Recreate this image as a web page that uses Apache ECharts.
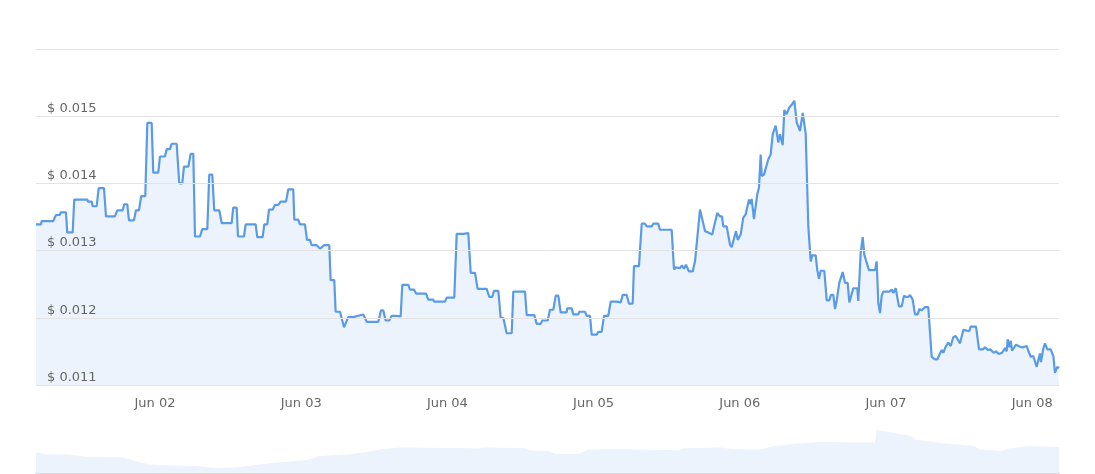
<!DOCTYPE html>
<html>
<head>
<meta charset="utf-8">
<script src="https://cdn.jsdelivr.net/npm/echarts@6/dist/echarts.min.js"></script>
<style>
html,body{margin:0;padding:0;background:#fff;}
#chart{width:1095px;height:474px;}
</style>
</head>
<body>
<div id="chart"></div>
<script>
// Hours since 2024-06-01 00:00 UTC
const hours = [4.47,5.29,5.40,7.31,7.75,8.40,8.52,9.39,9.60,10.49,10.75,12.89,13.00,13.61,13.77,14.43,14.76,15.63,15.96,17.43,
17.81,18.70,18.96,19.45,19.73,20.55,20.88,21.37,21.75,22.41,22.74,23.46,23.72,24.54,24.82,25.64,25.92,26.46,26.74,27.56,
27.99,28.48,28.76,29.47,29.86,30.29,30.57,31.39,31.76,32.59,32.91,33.41,33.73,34.56,34.95,36.59,36.85,37.41,37.63,38.61,
38.89,40.53,40.79,41.68,41.94,42.44,42.71,43.32,43.70,44.24,44.64,45.51,45.88,46.70,46.87,47.52,47.80,48.62,48.95,49.44,
49.72,50.54,51.09,51.37,51.79,52.61,52.84,53.43,53.66,54.37,55.03,55.73,56.55,56.72,57.37,57.54,58.19,58.75,60.66,61.10,
61.48,61.87,62.46,62.86,63.56,63.68,64.33,64.60,65.58,65.86,66.52,66.85,68.49,68.87,69.69,69.85,71.61,71.89,73.13,73.53,
74.61,74.89,75.43,75.83,76.53,76.97,78.45,78.88,79.37,79.65,80.36,80.75,81.18,81.73,82.56,82.82,84.74,85.02,86.27,86.66,
87.32,87.58,88.47,88.84,89.39,89.78,90.21,90.60,91.58,91.68,92.41,92.67,93.49,93.65,94.59,94.87,95.41,95.69,96.51,96.77,
97.33,97.71,98.41,98.81,99.79,100.05,100.45,100.78,101.43,101.81,102.42,102.63,103.45,103.90,104.44,104.72,105.54,105.80,106.62,106.90,
108.82,109.20,109.53,110.18,110.51,110.84,111.17,111.66,112.27,112.65,113.47,114.29,114.83,115.49,115.77,116.09,116.31,116.75,117.08,117.29,
117.85,118.39,118.67,119.38,119.66,120.15,120.57,120.97,121.51,121.79,121.95,122.33,122.61,122.87,123.15,123.43,123.60,123.97,124.19,124.68,
125.07,125.40,125.61,125.89,126.32,126.60,126.88,127.04,127.31,127.70,128.13,128.52,128.95,129.34,129.88,130.33,130.82,131.25,131.64,131.90,
132.46,132.72,133.00,133.28,133.87,134.27,134.69,134.97,135.35,135.63,135.91,136.33,136.89,137.27,137.71,137.98,138.63,139.29,139.45,139.85,
140.18,140.44,140.83,141.21,142.20,142.47,142.74,143.02,143.29,143.56,144.54,144.94,145.20,145.59,146.13,146.58,146.95,147.28,147.66,147.94,
148.38,148.76,149.20,149.47,149.86,150.40,150.94,151.50,152.04,152.42,152.87,153.14,153.41,153.80,154.23,154.62,155.05,155.44,156.15,156.69,
157.67,157.90,158.78,159.27,159.88,160.25,160.75,161.12,161.68,162.06,162.50,163.04,163.32,163.54,163.81,163.98,164.24,164.47,164.69,165.34,
166.00,166.44,167.10,167.36,167.76,168.18,168.74,169.00,169.28,169.44,169.82,170.10,170.48,171.04,171.47,171.74,172.12,172.40];

// Price in USD
const prices = [0.01339,0.01339,0.01344,0.01344,0.01353,0.01353,0.01357,0.01357,0.01327,0.01327,0.01376,0.01376,0.01373,0.01373,0.01366,0.01366,0.01393,0.01393,0.01351,0.01351,
0.01360,0.01360,0.01369,0.01369,0.01345,0.01345,0.01360,0.01360,0.01381,0.01381,0.01490,0.01490,0.01416,0.01416,0.01440,0.01440,0.01451,0.01451,0.01459,0.01459,
0.01400,0.01400,0.01425,0.01425,0.01444,0.01444,0.01321,0.01321,0.01332,0.01332,0.01413,0.01413,0.01360,0.01360,0.01341,0.01341,0.01364,0.01364,0.01321,0.01321,
0.01339,0.01339,0.01320,0.01320,0.01339,0.01339,0.01361,0.01361,0.01368,0.01368,0.01373,0.01373,0.01391,0.01391,0.01346,0.01346,0.01339,0.01339,0.01316,0.01316,
0.01308,0.01308,0.01303,0.01303,0.01308,0.01308,0.01256,0.01256,0.01209,0.01209,0.01186,0.01201,0.01201,0.01203,0.01203,0.01205,0.01205,0.01194,0.01194,0.01211,
0.01211,0.01196,0.01196,0.01203,0.01203,0.01202,0.01202,0.01249,0.01249,0.01242,0.01242,0.01236,0.01236,0.01227,0.01227,0.01224,0.01224,0.01230,0.01230,0.01325,
0.01325,0.01326,0.01326,0.01267,0.01267,0.01243,0.01243,0.01231,0.01231,0.01240,0.01240,0.01200,0.01200,0.01177,0.01177,0.01239,0.01239,0.01204,0.01204,0.01191,
0.01191,0.01196,0.01196,0.01212,0.01212,0.01233,0.01233,0.01208,0.01208,0.01214,0.01214,0.01205,0.01205,0.01209,0.01209,0.01203,0.01203,0.01175,0.01175,0.01179,
0.01179,0.01203,0.01203,0.01224,0.01224,0.01223,0.01223,0.01234,0.01234,0.01221,0.01221,0.01277,0.01277,0.01340,0.01340,0.01336,0.01336,0.01340,0.01340,0.01331,
0.01331,0.01272,0.01275,0.01274,0.01278,0.01273,0.01279,0.01269,0.01269,0.01284,0.01361,0.01329,0.01327,0.01324,0.01336,0.01335,0.01356,0.01351,0.01351,0.01336,
0.01336,0.01309,0.01305,0.01329,0.01316,0.01324,0.01349,0.01354,0.01376,0.01369,0.01377,0.01347,0.01347,0.01384,0.01394,0.01443,0.01411,0.01413,0.01411,0.01436,
0.01443,0.01473,0.01471,0.01486,0.01461,0.01473,0.01471,0.01457,0.01509,0.01503,0.01513,0.01517,0.01523,0.01491,0.01478,0.01505,0.01474,0.01336,0.01284,0.01293,
0.01293,0.01271,0.01258,0.01270,0.01270,0.01226,0.01226,0.01234,0.01234,0.01213,0.01226,0.01252,0.01268,0.01252,0.01252,0.01223,0.01244,0.01244,0.01225,0.01297,
0.01320,0.01294,0.01282,0.01271,0.01271,0.01284,0.01222,0.01207,0.01233,0.01239,0.01239,0.01242,0.01237,0.01244,0.01217,0.01217,0.01233,0.01231,0.01231,0.01234,
0.01227,0.01205,0.01205,0.01213,0.01211,0.01216,0.01216,0.01142,0.01138,0.01138,0.01147,0.01152,0.01148,0.01157,0.01163,0.01158,0.01171,0.01173,0.01162,0.01182,
0.01180,0.01187,0.01187,0.01153,0.01153,0.01156,0.01152,0.01153,0.01148,0.01150,0.01146,0.01148,0.01146,0.01155,0.01150,0.01168,0.01156,0.01166,0.01151,0.01160,
0.01157,0.01156,0.01158,0.01151,0.01142,0.01143,0.01127,0.01137,0.01147,0.01134,0.01154,0.01162,0.01153,0.01153,0.01143,0.01118,0.01127,0.01125];

// Overview strip (relative level, arbitrary units)
const overviewHours = [4.47,6.22,9.50,13.05,18.80,19.90,21.54,23.18,25.36,30.85,33.57,37.41,40.14,42.88,48.90,51.09,55.47,58.20,60.94,64.22,
74.07,77.35,77.90,84.46,85.56,88.84,89.66,93.49,95.13,100.61,109.90,111.00,117.03,118.67,123.04,125.78,129.60,133.44,142.19,142.47,
144.37,148.21,148.76,153.68,158.61,159.15,161.89,162.99,164.07,167.36,172.40];
const overviewValues = [21.0,18.4,18.7,16.0,15.4,13.4,10.4,8.4,7.7,7.0,5.0,5.4,7.7,9.7,13.0,17.0,18.4,20.4,23.4,25.4,
25.0,24.4,25.4,25.0,22.7,21.7,19.0,19.0,23.4,23.7,22.7,24.7,25.4,23.7,23.4,27.0,29.4,31.0,30.4,43.0,
41.0,37.0,33.4,29.4,27.0,23.7,22.7,21.7,24.4,27.0,26.0];

const yTicks = [0.011, 0.016, 0.001]; // min, max, step
const monthNames = ['Jan','Feb','Mar','Apr','May','Jun','Jul','Aug','Sep','Oct','Nov','Dec'];

const base = Date.UTC(2024, 5, 1);
const H = 3600000;
const priceData = hours.map((h, i) => [base + h * H, prices[i]]);
const overviewData = overviewHours.map((h, i) => [base + h * H, overviewValues[i]]);
const tMin = base + hours[0] * H;
const tMax = base + hours[hours.length - 1] * H;

const FONT = 'DejaVu Sans';
const chart = echarts.init(document.getElementById('chart'), null, {renderer: 'canvas'});
chart.setOption({
  useUTC: true,
  animation: false,
  backgroundColor: '#fff',
  grid: [
    {left: 36, right: 36, top: 49, bottom: 89},
    {left: 36, right: 36, top: 426, bottom: 1}
  ],
  xAxis: [
    {
      type: 'time', gridIndex: 0, min: tMin, max: tMax,
      minInterval: 24 * H, maxInterval: 24 * H,
      axisLine: {show: false}, axisTick: {show: false}, splitLine: {show: false},
      axisLabel: {
        color: '#666', fontFamily: FONT, fontSize: 13, margin: 12,
        showMinLabel: false, showMaxLabel: false,
        formatter: v => { const d = new Date(v); return monthNames[d.getUTCMonth()] + ' ' + String(d.getUTCDate()).padStart(2, '0'); }
      }
    },
    {
      type: 'time', gridIndex: 1, min: tMin, max: tMax,
      axisLine: {show: true, lineStyle: {color: '#d0d0d0', width: 1.5}},
      axisTick: {show: false}, axisLabel: {show: false}, splitLine: {show: false}
    }
  ],
  yAxis: [
    {
      type: 'value', gridIndex: 0, min: yTicks[0], max: yTicks[1], interval: yTicks[2],
      z: 10,
      axisLine: {show: false}, axisTick: {show: false},
      splitLine: {lineStyle: {color: '#e3e3e3', width: 1}},
      axisLabel: {
        inside: true, margin: 11, verticalAlign: 'bottom', padding: [0, 0, 1, 0],
        color: '#666', fontFamily: FONT, fontSize: 13,
        showMaxLabel: false,
        formatter: v => '$ ' + v.toFixed(3)
      }
    },
    {
      type: 'value', gridIndex: 1, min: 0, max: 47,
      show: false
    }
  ],
  series: [
    {
      type: 'line', xAxisIndex: 0, yAxisIndex: 0,
      data: priceData, showSymbol: false, symbol: 'none',
      lineStyle: {color: '#5a9be6', width: 2.2},
      areaStyle: {color: '#edf3fc', opacity: 1},
      z: 3
    },
    {
      type: 'line', xAxisIndex: 1, yAxisIndex: 1,
      data: overviewData, showSymbol: false, symbol: 'none',
      lineStyle: {width: 0, opacity: 0},
      areaStyle: {color: '#edf3fc', opacity: 1}
    }
  ]
});
</script>
</body>
</html>
